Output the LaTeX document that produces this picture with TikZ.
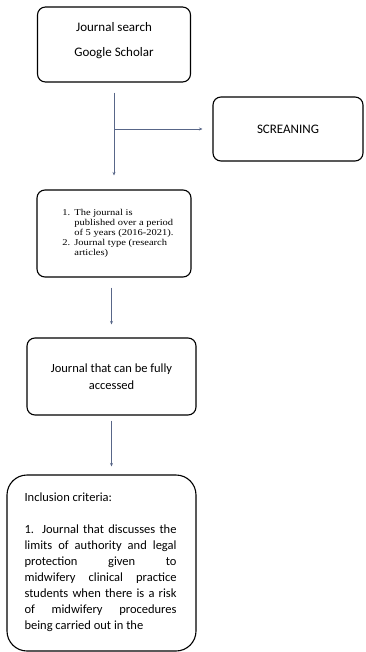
\documentclass[tikz,border=0pt]{standalone}
\usepackage{fontspec}
\usepackage{graphicx}
\setmainfont{Carlito}
\newfontfamily\journalserif{Liberation Serif}
\usetikzlibrary{arrows.meta}
\definecolor{flowblue}{RGB}{88,102,136}
\begin{document}
\begin{tikzpicture}[x=1pt, y=-1pt, line width=1.1pt]
   \useasboundingbox (0,0) rectangle (365,652);
   \begin{scope}[every node/.style={draw=black, rounded corners=8pt, inner sep=0pt, align=center, font=\fontsize{13}{25}\selectfont},
                 link/.style={draw=flowblue, line width=0.8pt, -{Stealth[length=3.5pt, width=3pt]}}]
\coordinate (fork) at (114,129);

\node [minimum width=153pt, minimum height=75pt, text depth=11pt] (search) at (114,44.5) {Journal search\\Google Scholar};
\node [minimum width=150pt, minimum height=64pt] (screen) at (288,129) {SCREANING};
\node [minimum width=154pt, minimum height=87pt, font=\journalserif\fontsize{10.5}{11.5}\selectfont] (criteria) at (114,233.5)
      {\hspace*{8pt}\scalebox{1}[0.85]{\begin{tabular}{@{}l@{\hspace{4pt}}l@{}}
       1. & The journal is\\
          & published over a period\\
          & of 5 years (2016-2021).\\
       2. & Journal type (research\\
          & articles)
       \end{tabular}}};
\node [minimum width=169pt, minimum height=77pt, font=\fontsize{12.5}{17}\selectfont] (access) at (111.5,376.5) {Journal that can be fully\\accessed};
\node [minimum width=189pt, minimum height=176pt, rounded corners=20pt] (inclusion) at (101.5,563) {};
\node [draw=none, anchor=north west, font=\fontsize{12.5}{16}\selectfont] (inclusiontext) at (24,492)
      {\parbox{152pt}{Inclusion criteria:\par\vspace{16pt}
       1. Journal that discusses the\linebreak
       limits of authority and legal\linebreak
       protection given to\linebreak
       midwifery clinical practice\linebreak
       students when there is a risk\linebreak
       of midwifery procedures\linebreak
       being carried out in the}};

\draw [link, shorten <=10pt, shorten >=14pt] (search.south) -- (criteria.north);
\draw [link, shorten >=10pt] (fork) -- (screen.west);
\draw [link, shorten <=10pt, shorten >=13pt] (criteria.south -| access.north) -- (access.north);
\draw [link, shorten <=5pt, shorten >=8pt] (access.south) -- (access.south |- inclusion.north);
  \end{scope}
\end{tikzpicture}
\end{document}
